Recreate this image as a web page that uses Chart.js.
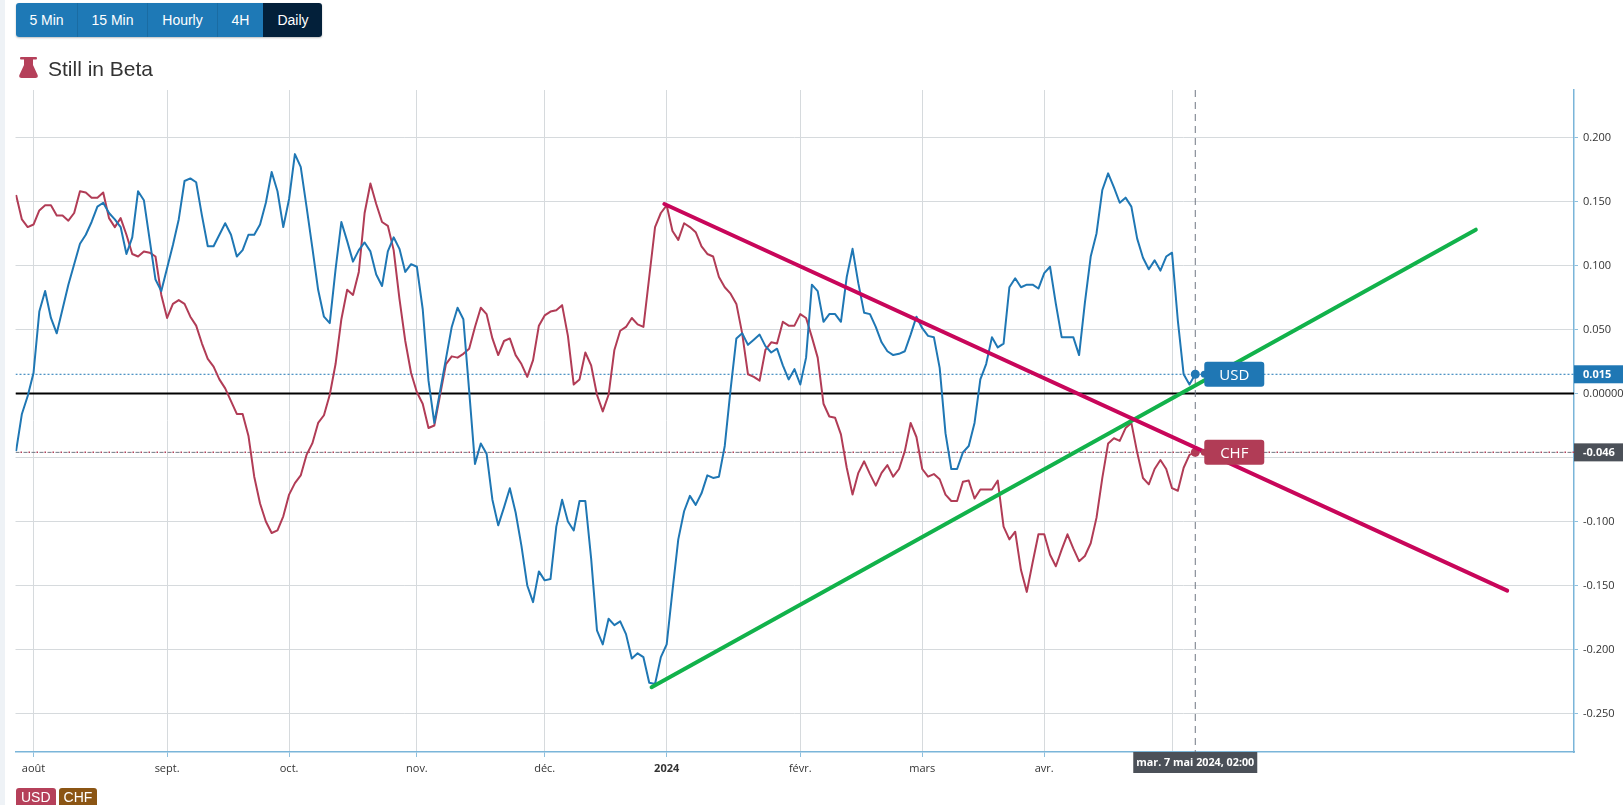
<!DOCTYPE html>
<html lang="fr">
<head>
<meta charset="utf-8">
<title>USD / CHF - Daily</title>
<script src="https://cdn.jsdelivr.net/npm/chart.js@4.4.1/dist/chart.umd.min.js"></script>
<style>
  html, body { margin: 0; padding: 0; background: #fff; width: 1623px; height: 805px; overflow: hidden;
    font-family: "Liberation Sans", Arial, sans-serif; }
  .strip { position: absolute; left: 0; top: 0; width: 5px; height: 805px; background: #eef2f6; }
  #chart { position: absolute; left: 0; top: 0; }
  .tf { position: absolute; left: 16px; top: 3px; height: 34px; display: flex; border-radius: 3px;
    overflow: hidden; box-shadow: 0 1px 2px rgba(0,0,0,.25); z-index: 2; }
  .tf span { display: block; height: 34px; line-height: 34px; text-align: center; color: #fff;
    font-size: 14px; background: #1e79b6; border-left: 1px solid #1a6ca3; box-sizing: border-box; }
  .tf span:first-child { border-left: none; }
  .tf span.on { background: #03203a; border-left-color: #03203a; }
  .beta { position: absolute; left: 19px; top: 57px; height: 24px; z-index: 2; }
  .beta svg { position: absolute; left: 0; top: 0; }
  .beta b { position: absolute; left: 29px; top: 0; font-weight: normal; font-size: 21px;
    line-height: 24px; color: #333; white-space: nowrap; }
  .legend { position: absolute; left: 16px; top: 788px; display: flex; gap: 3px; z-index: 2; }
  .legend span { display: block; height: 19px; line-height: 18px; padding: 0 5px; color: #fff;
    font-size: 14px; border-radius: 3px 3px 0 0; }
</style>
</head>
<body>
<div class="strip"></div>
<canvas id="chart" width="1623" height="805"></canvas>

<div class="tf">
  <span style="width:61px">5 Min</span>
  <span style="width:70px">15 Min</span>
  <span style="width:70px">Hourly</span>
  <span style="width:46px">4H</span>
  <span class="on" style="width:59px">Daily</span>
</div>

<div class="beta">
  <svg width="19" height="21" viewBox="0 0 19 21">
    <path fill="#b5405a" d="M2 0 H17 Q18 0 18 1.25 Q18 2.5 17 2.5 H14 V8 L18.6 18 Q19.6 21 16.5 21 H2.5 Q-0.6 21 0.4 18 L5 8 V2.5 H2 Q1 2.5 1 1.25 Q1 0 2 0 Z"/>
  </svg>
  <b>Still in Beta</b>
</div>

<div class="legend">
  <span style="background:#b5405a">USD</span>
  <span style="background:#8b5514">CHF</span>
</div>

<script>
// séries journalières (jours ouvrés du 27 juil. 2023 au 7 mai 2024)
const usdValues = [
  -0.045, -0.016, -0.002, 0.016, 0.064, 0.080, 0.059, 0.047, 0.066, 0.085,
  0.101, 0.117, 0.124, 0.134, 0.146, 0.149, 0.141, 0.136, 0.130, 0.109,
  0.122, 0.158, 0.151, 0.120, 0.089, 0.080, 0.098, 0.116, 0.136, 0.166,
  0.168, 0.165, 0.139, 0.115, 0.115, 0.124, 0.133, 0.124, 0.107, 0.112,
  0.124, 0.124, 0.132, 0.149, 0.173, 0.158, 0.130, 0.152, 0.187, 0.177,
  0.146, 0.114, 0.081, 0.060, 0.055, 0.097, 0.134, 0.119, 0.103, 0.112,
  0.118, 0.111, 0.093, 0.084, 0.111, 0.122, 0.113, 0.095, 0.101, 0.099,
  0.066, 0.010, -0.023, 0.002, 0.027, 0.052, 0.067, 0.058, 0.002, -0.055,
  -0.039, -0.047, -0.083, -0.103, -0.089, -0.074, -0.093, -0.119, -0.150, -0.163,
  -0.139, -0.146, -0.145, -0.104, -0.083, -0.100, -0.107, -0.084, -0.084, -0.129,
  -0.185, -0.196, -0.176, -0.181, -0.178, -0.188, -0.207, -0.203, -0.206, -0.226,
  -0.227, -0.206, -0.196, -0.154, -0.114, -0.092, -0.080, -0.087, -0.078, -0.064,
  -0.066, -0.065, -0.041, 0.003, 0.043, 0.047, 0.038, 0.042, 0.046, 0.037,
  0.032, 0.035, 0.022, 0.011, 0.019, 0.007, 0.028, 0.085, 0.080, 0.056,
  0.062, 0.062, 0.056, 0.091, 0.113, 0.086, 0.063, 0.062, 0.052, 0.040,
  0.033, 0.030, 0.031, 0.033, 0.046, 0.060, 0.051, 0.045, 0.044, 0.020,
  -0.031, -0.059, -0.059, -0.046, -0.041, -0.023, 0.011, 0.023, 0.044, 0.036,
  0.039, 0.083, 0.090, 0.083, 0.085, 0.085, 0.082, 0.094, 0.099, 0.070,
  0.044, 0.044, 0.044, 0.030, 0.071, 0.107, 0.125, 0.159, 0.172, 0.161,
  0.149, 0.153, 0.146, 0.121, 0.106, 0.097, 0.104, 0.096, 0.107, 0.110,
  0.057, 0.015, 0.007, 0.015
];
const chfValues = [
  0.155, 0.136, 0.130, 0.132, 0.143, 0.147, 0.147, 0.139, 0.139, 0.135,
  0.141, 0.158, 0.157, 0.153, 0.153, 0.157, 0.137, 0.130, 0.137, 0.124,
  0.109, 0.107, 0.111, 0.110, 0.107, 0.077, 0.059, 0.070, 0.073, 0.070,
  0.060, 0.053, 0.039, 0.027, 0.021, 0.011, 0.004, -0.006, -0.016, -0.016,
  -0.033, -0.065, -0.086, -0.100, -0.109, -0.107, -0.096, -0.079, -0.070, -0.064,
  -0.048, -0.039, -0.023, -0.017, -0.001, 0.023, 0.058, 0.081, 0.077, 0.095,
  0.141, 0.164, 0.148, 0.134, 0.131, 0.112, 0.074, 0.041, 0.016, 0.001,
  -0.008, -0.027, -0.025, -0.001, 0.023, 0.029, 0.028, 0.031, 0.035, 0.052,
  0.067, 0.062, 0.043, 0.030, 0.041, 0.043, 0.030, 0.023, 0.013, 0.026,
  0.053, 0.061, 0.064, 0.065, 0.069, 0.045, 0.007, 0.011, 0.032, 0.022,
  -0.001, -0.014, -0.001, 0.034, 0.049, 0.052, 0.059, 0.054, 0.052, 0.091,
  0.130, 0.141, 0.147, 0.127, 0.120, 0.133, 0.130, 0.126, 0.115, 0.109,
  0.107, 0.091, 0.083, 0.078, 0.070, 0.047, 0.015, 0.013, 0.010, 0.034,
  0.040, 0.039, 0.056, 0.053, 0.053, 0.062, 0.059, 0.044, 0.028, -0.008,
  -0.018, -0.019, -0.032, -0.058, -0.079, -0.062, -0.053, -0.063, -0.072, -0.062,
  -0.056, -0.065, -0.059, -0.045, -0.023, -0.034, -0.059, -0.065, -0.063, -0.067,
  -0.079, -0.084, -0.084, -0.069, -0.068, -0.082, -0.075, -0.075, -0.075, -0.068,
  -0.104, -0.114, -0.108, -0.138, -0.155, -0.132, -0.110, -0.110, -0.126, -0.135,
  -0.122, -0.110, -0.121, -0.131, -0.127, -0.117, -0.097, -0.066, -0.039, -0.035,
  -0.037, -0.027, -0.023, -0.046, -0.066, -0.071, -0.059, -0.052, -0.059, -0.074,
  -0.076, -0.058, -0.048, -0.046
];

// repères de mois (index du jour ouvré)
const monthTickIdx = [3, 26, 47, 69, 91, 112, 135, 156, 177, 199];
const monthTickLabels = ['août', 'sept.', 'oct.', 'nov.', 'déc.', '2024', 'févr.', 'mars', 'avr.', 'mai'];
const yTicks = [-0.25, -0.2, -0.15, -0.1, -0.05, 0, 0.05, 0.1, 0.15, 0.2];

// lignes de tendance tracées à la main
const greenTrendX = [109.4, 251.3];
const greenTrendY = [-0.2295, 0.128];
const redTrendX = [111.6, 256.7];
const redTrendY = [0.148, -0.154];

const crosshairLabel = 'mar. 7 mai 2024, 02:00';

const xMin = -0.1, xMax = 268.2;
const yMin = -0.2801, yMax = 0.2371;
const lastIdx = usdValues.length - 1;
const lastUsd = usdValues[lastIdx];
const lastChf = chfValues[lastIdx];

const BLUE = '#1f77b4';
const RED = '#b13c56';

function pts(xs, ys) { return xs.map((x, i) => ({ x: x, y: ys[i] })); }
function flat(v) { return [{ x: xMin, y: v }, { x: xMax, y: v }]; }
const lastDot = r => ctx => ctx.dataIndex === lastIdx ? r : 0;

const overlay = {
  id: 'overlay',
  afterDraw(chart) {
    const { ctx, chartArea, scales } = chart;
    const xs = scales.x, ys = scales.y;
    const px = xs.getPixelForValue(lastIdx);

    // étiquettes des séries
    [[lastUsd, 'USD', BLUE], [lastChf, 'CHF', RED]].forEach(([v, name, col]) => {
      const py = ys.getPixelForValue(v);
      ctx.save();
      ctx.fillStyle = col;
      ctx.beginPath();
      ctx.arc(px + 9, py, 3.5, 0, Math.PI * 2);
      ctx.fill();
      ctx.beginPath();
      ctx.roundRect(px + 9, py - 12.5, 60, 25, 3);
      ctx.fill();
      ctx.fillStyle = '#fff';
      ctx.font = '15px "Open Sans"';
      ctx.textAlign = 'center';
      ctx.textBaseline = 'middle';
      ctx.fillText(name, px + 39, py + 1);
      ctx.restore();
    });

    // dernières valeurs sur l'axe
    [[lastUsd, BLUE], [lastChf, '#4b5058']].forEach(([v, col]) => {
      const py = ys.getPixelForValue(v);
      ctx.save();
      ctx.fillStyle = col;
      ctx.fillRect(chartArea.right, py - 9, chart.width - chartArea.right, 18);
      ctx.fillStyle = '#fff';
      ctx.font = 'bold 11px "Open Sans"';
      ctx.textBaseline = 'middle';
      ctx.fillText(v.toFixed(3), chartArea.right + 9, py + 0.5);
      ctx.restore();
    });

    // étiquette du réticule
    ctx.save();
    ctx.fillStyle = '#4b5058';
    ctx.fillRect(px - 62, chartArea.bottom, 124, 21);
    ctx.fillStyle = '#fff';
    ctx.font = 'bold 11px "Open Sans"';
    ctx.textAlign = 'center';
    ctx.textBaseline = 'middle';
    ctx.fillText(crosshairLabel, px, chartArea.bottom + 11, 118);
    ctx.restore();
  }
};

const chart = new Chart(document.getElementById('chart'), {
  type: 'line',
  data: {
    datasets: [
      { label: 'tendance rouge', data: pts(redTrendX, redTrendY), borderColor: '#c8065a',
        borderWidth: 4, borderCapStyle: 'round', order: 0 },
      { label: 'tendance verte', data: pts(greenTrendX, greenTrendY), borderColor: '#12b24b',
        borderWidth: 4, borderCapStyle: 'round', order: 1 },
      { label: 'USD', data: usdValues.map((v, i) => ({ x: i, y: v })), borderColor: BLUE,
        borderWidth: 2, borderJoinStyle: 'round', pointRadius: lastDot(4.5),
        pointBackgroundColor: BLUE, pointBorderWidth: 0, order: 2 },
      { label: 'CHF', data: chfValues.map((v, i) => ({ x: i, y: v })), borderColor: RED,
        borderWidth: 2, borderJoinStyle: 'round', pointRadius: lastDot(4.5),
        pointBackgroundColor: RED, pointBorderWidth: 0, order: 3 },
      { label: 'réticule', data: [{ x: lastIdx, y: yMax }, { x: lastIdx, y: yMin }],
        borderColor: '#6f7782', borderWidth: 1, borderDash: [7, 5], order: 4 },
      { label: 'niveau USD', data: flat(lastUsd), borderColor: BLUE, borderWidth: 1,
        borderDash: [2, 2], order: 5 },
      { label: 'niveau CHF', data: flat(lastChf), borderColor: RED, borderWidth: 1.5,
        borderDash: [1.5, 6.5], borderDashOffset: -5, order: 6 },
      { label: 'réticule horizontal', data: flat(lastChf), borderColor: '#6f7782', borderWidth: 1,
        borderDash: [4, 4], order: 7 },
      { label: 'zéro', data: flat(0), borderColor: '#000', borderWidth: 2, order: 8 }
    ]
  },
  options: {
    responsive: false,
    animation: false,
    events: [],
    layout: { padding: { top: 90, left: 15.5, right: 0, bottom: 0 } },
    elements: { point: { radius: 0, hoverRadius: 0 }, line: { tension: 0, fill: false } },
    plugins: { legend: { display: false }, tooltip: { enabled: false } },
    scales: {
      x: {
        type: 'linear', position: 'bottom', min: xMin, max: xMax,
        afterBuildTicks: s => { s.ticks = monthTickIdx.map(v => ({ value: v })); },
        afterFit: s => { s.height = 53; },
        grid: { color: '#d6dadd', tickColor: '#8fbfdc', tickLength: 5 },
        border: { color: '#7ab5d9', width: 1.5 },
        ticks: {
          autoSkip: false, maxRotation: 0, padding: 5, color: '#333',
          callback: v => monthTickLabels[monthTickIdx.indexOf(v)],
          font: c => ({ family: 'Open Sans', size: 11,
            weight: c.tick && c.tick.value === 112 ? 'bold' : 'normal' })
        }
      },
      y: {
        type: 'linear', position: 'right', min: yMin, max: yMax,
        afterBuildTicks: s => { s.ticks = yTicks.map(v => ({ value: v })); },
        afterFit: s => { s.width = 49; },
        grid: { color: '#d6dadd', tickColor: '#8fbfdc', tickLength: 4 },
        border: { color: '#7ab5d9', width: 1.5 },
        ticks: {
          padding: 5, color: '#333', font: { family: 'Open Sans', size: 11 },
          callback: v => v === 0 ? '0.00000' : v.toFixed(3)
        }
      }
    }
  },
  plugins: [overlay]
});
</script>
</body>
</html>
